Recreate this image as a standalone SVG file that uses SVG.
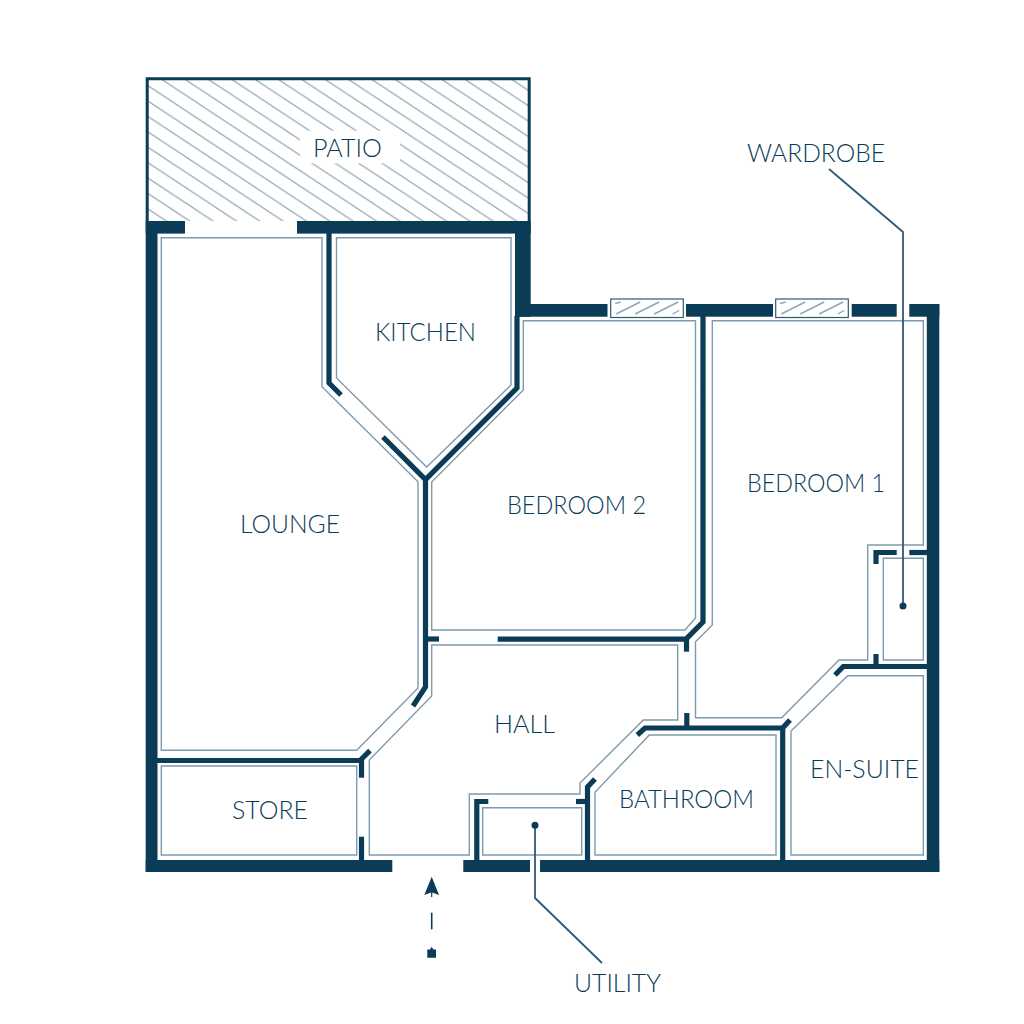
<svg xmlns="http://www.w3.org/2000/svg" width="1024" height="1024" viewBox="0 0 1024 1024">
<style>
.room{fill:none;stroke:#7f9aad;stroke-width:1.4}
.wall{fill:none;stroke:#0a3b57;stroke-width:5.2}
.thick{fill:#0a3b57}
.label{font-family:"Lato","Liberation Sans",sans-serif;font-weight:300;font-size:25px;fill:#0a3b57}
.leader{fill:none;stroke:#2f5a76;stroke-width:1.8}
.dot{fill:#0a3b57}
</style>
<defs>
<pattern id="hatch" patternUnits="userSpaceOnUse" width="23.33" height="15.4" patternTransform="translate(162.7 80)">
<path d="M-23.33 -15.4L46.66 30.8M-23.33 0L23.33 30.8M0 -15.4L46.66 15.4" fill="none" stroke="#8ea5b5" stroke-width="1.2"/>
</pattern>
<g id="win">
<rect x="0" y="0" width="72.6" height="18.5" fill="#fff" stroke="#2f5a76" stroke-width="1.2"/>
<path d="M4.5 4.5L10 3M5.5 15L29.5 3M24.5 15L48.5 3M43.5 15L67.5 3M62 15L68.5 11.5" fill="none" stroke="#8ea5b5" stroke-width="1.4"/>
</g>
</defs>
<g id="patio">
<rect x="147.5" y="78.8" width="381.8" height="142.2" fill="url(#hatch)"/>
<rect x="300" y="130.7" width="100" height="32.6" fill="#fff"/>
<path d="M147.2 221V78.8H529.2V221" fill="none" stroke="#0a3b57" stroke-width="3"/>
<text class="label" x="313" y="157" textLength="69" lengthAdjust="spacingAndGlyphs">PATIO</text>
</g>
<g id="outer-walls" class="thick">
<rect x="145.7" y="221" width="39.3" height="12.6"/>
<rect x="297" y="221" width="233.7" height="12.6"/>
<rect x="145.7" y="221" width="11.8" height="651"/>
<rect x="515" y="221" width="15.7" height="95.7"/>
<rect x="515" y="304" width="92.5" height="12.7"/>
<rect x="686" y="304" width="87" height="12.7"/>
<rect x="851.7" y="304" width="45" height="12.7"/>
<rect x="909.3" y="304" width="30" height="12.7"/>
<rect x="926.8" y="304" width="12.5" height="568"/>
<rect x="145.7" y="860" width="246.6" height="12"/>
<rect x="463.3" y="860" width="66.7" height="12"/>
<rect x="540" y="860" width="399.3" height="12"/>
</g>
<g id="inner-walls" class="wall">
<path d="M329 233V383L341 395"/>
<path d="M383 437L425.5 479.5L517 388V316"/>
<path d="M425.5 477V687L413 706"/>
<path d="M425.5 639H439"/>
<path d="M497.7 639.2H686L703 622V316"/>
<path d="M686.5 639V651.7"/>
<path d="M157 760.5H360L370 750.7"/>
<path d="M361.5 760V777.7"/>
<path d="M361.5 836.7V860"/>
<path d="M488.3 801.5H476.8V860"/>
<path d="M576 801.5H587.5"/>
<path d="M595 779L587.5 787V860"/>
<path d="M637.3 735L645 728H783"/>
<path d="M686.8 713V728"/>
<path d="M790 720L782.7 728V860"/>
<path d="M835 675L843.3 666.5H927"/>
<path d="M876 654V666"/>
<path d="M896.7 552.5H876V564"/>
<path d="M909.3 552.5H927"/>
</g>
<g id="windows">
<use href="#win" x="610.7" y="299"/>
<use href="#win" x="775.7" y="299"/>
</g>
<g id="lounge">
<path class="room" d="M161.3 237.7H322V386.7L418 481.7V688L356.7 750.3H161.3Z"/>
<text class="label" x="240" y="533" textLength="100" lengthAdjust="spacingAndGlyphs">LOUNGE</text>
</g>
<g id="kitchen">
<path class="room" d="M336.5 237.7H511V385L426.7 467L336.5 378Z"/>
<text class="label" x="375" y="340.7" textLength="101" lengthAdjust="spacingAndGlyphs">KITCHEN</text>
</g>
<g id="bedroom-2">
<path class="room" d="M523.3 320.7H695.5V618L685 630H431.7V482L523.3 390Z"/>
<text class="label" x="507" y="514" textLength="139" lengthAdjust="spacingAndGlyphs">BEDROOM 2</text>
</g>
<g id="bedroom-1">
<path class="room" d="M712.3 320.7H923.3V545H867.7V660H839L781.7 717.7H695.5V641.7L712.3 625Z"/>
<text class="label" x="747" y="492" textLength="138" lengthAdjust="spacingAndGlyphs">BEDROOM 1</text>
</g>
<g id="wardrobe">
<path class="room" d="M883.3 558.3H923.3V660H883.3Z"/>
<text class="label" x="747" y="162" textLength="138" lengthAdjust="spacingAndGlyphs">WARDROBE</text>
</g>
<g id="en-suite">
<path class="room" d="M847.7 675.7H923.3V855H791V731Z"/>
<text class="label" x="810" y="778" textLength="109" lengthAdjust="spacingAndGlyphs">EN-SUITE</text>
</g>
<g id="bathroom">
<path class="room" d="M649.3 735H776V855H595V792.3Z"/>
<text class="label" x="619" y="808" textLength="135" lengthAdjust="spacingAndGlyphs">BATHROOM</text>
</g>
<g id="hall">
<path class="room" d="M431.7 645H677.7V720H643.3L580 783V794H469.3V855H369.3V760L431.7 696Z"/>
<text class="label" x="494" y="733" textLength="61" lengthAdjust="spacingAndGlyphs">HALL</text>
</g>
<g id="utility">
<path class="room" d="M482.7 807.7H581.7V855H482.7Z"/>
<text class="label" x="574" y="992" textLength="87" lengthAdjust="spacingAndGlyphs">UTILITY</text>
</g>
<g id="store">
<path class="room" d="M161.3 766H356.7V855H161.3Z"/>
<text class="label" x="232" y="819" textLength="76" lengthAdjust="spacingAndGlyphs">STORE</text>
</g>
<g id="connectors">
<path class="leader" d="M829 169L903 232V606"/>
<circle class="dot" cx="903" cy="606" r="3.5"/>
<path class="leader" d="M535 825.3V898L602 963"/>
<circle class="dot" cx="535" cy="825.3" r="3.5"/>
</g>
<g id="entrance">
<path class="thick" d="M431.7 876.7L439 895L432.3 892.5V897H431.1V892.5L424.3 895Z"/>
<path d="M431.7 912.7V929.3" stroke="#0a3b57" stroke-width="1.6" fill="none"/>
<path class="thick" d="M427.3 949.5H430L431.7 946.7L433.4 949.5H436V957.7H427.3Z"/>
</g>
</svg>
